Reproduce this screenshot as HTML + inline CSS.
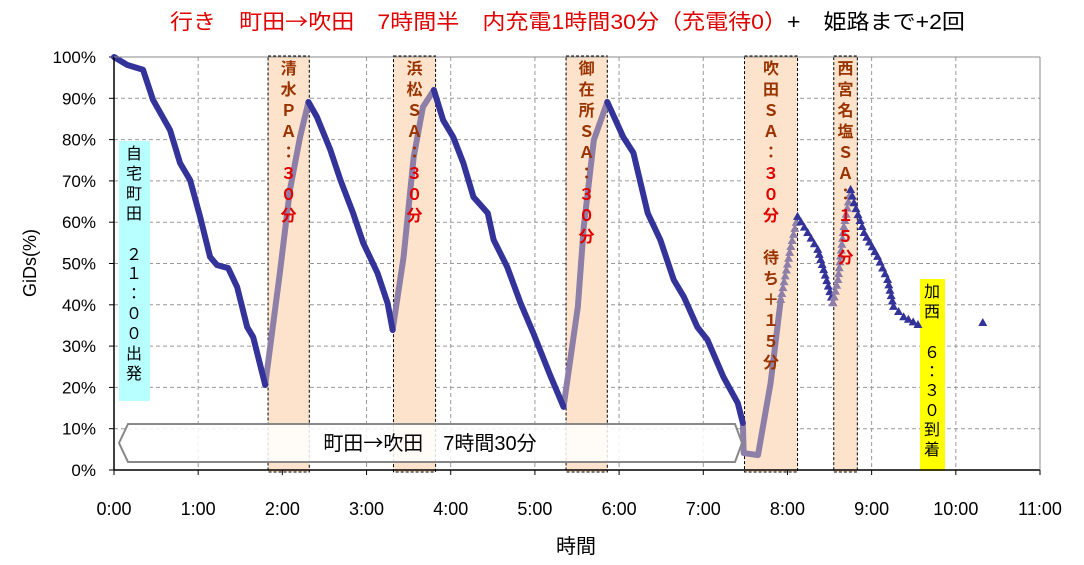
<!DOCTYPE html>
<html><head><meta charset="utf-8">
<style>
html,body{margin:0;padding:0;background:#fff;}
svg{display:block;font-family:"Liberation Sans","Noto Sans CJK JP",sans-serif;}
.cjk{font-family:"Noto Sans CJK JP",sans-serif;}
</style></head>
<body>
<svg id="chart" width="1084" height="565" viewBox="0 0 1084 565">
<text x="170" y="29" font-size="21" textLength="795" lengthAdjust="spacingAndGlyphs"><tspan fill="#e00000">行き　町田</tspan><tspan class="cjk" fill="#e00000">→</tspan><tspan fill="#e00000">吹田　7時間半　内充電1時間30分（充電待0）</tspan><tspan fill="#000">+　姫路まで+2回</tspan></text>
<g id="grid"></g>
<g id="bands"></g>
<g id="yticks"></g>
<g id="xticks"></g>
<rect x="119" y="141" width="31" height="260" fill="#b8ffff"/>
<text font-size="16" fill="#000" text-anchor="middle">
<tspan x="134" y="159">自</tspan><tspan x="134" y="179">宅</tspan><tspan x="134" y="199">町</tspan><tspan x="134" y="219">田</tspan><tspan x="134" y="260">２</tspan><tspan x="134" y="279">１</tspan><tspan x="134" y="299">：</tspan><tspan x="134" y="319">０</tspan><tspan x="134" y="339">０</tspan><tspan x="134" y="359">出</tspan><tspan x="134" y="379">発</tspan></text>
<rect x="920" y="279" width="25" height="192" fill="#ffff00"/>
<text font-size="16" fill="#000" text-anchor="middle">
<tspan x="932" y="297">加</tspan><tspan x="932" y="317">西</tspan><tspan x="932" y="358">６</tspan><tspan x="932" y="377">：</tspan><tspan x="932" y="396">３</tspan><tspan x="932" y="416">０</tspan><tspan x="932" y="435">到</tspan><tspan x="932" y="455">着</tspan></text>
<g id="series"></g>
<g id="bandtext"></g>
<polygon points="119,443 128,424 735,424 742,443 735,462 128,462" fill="rgba(255,255,255,0.85)" stroke="#888" stroke-width="2"/>
<text x="430" y="450" font-size="20" text-anchor="middle" fill="#000">町田<tspan class="cjk">→</tspan>吹田　7時間30分</text>
<line x1="114" y1="57" x2="114" y2="470" stroke="#000" stroke-width="1.5"/>
<line x1="114" y1="470" x2="1040" y2="470" stroke="#000" stroke-width="1.5"/>
<line x1="1040" y1="57" x2="1040" y2="470" stroke="#888" stroke-width="1"/>
<line x1="114" y1="57" x2="1040" y2="57" stroke="#888" stroke-width="1"/>
<text x="576" y="553" font-size="20" text-anchor="middle" fill="#000">時間</text>
<text x="0" y="0" font-size="18" text-anchor="middle" fill="#000" transform="translate(36,263) rotate(-90)">GiDs(%)</text>
</svg>
<script>
// data
const xTickLabels=["0:00","1:00","2:00","3:00","4:00","5:00","6:00","7:00","8:00","9:00","10:00","11:00"];
const yTickLabels=["0%","10%","20%","30%","40%","50%","60%","70%","80%","90%","100%"];
const bandStarts=[1.83,3.32,5.37,7.49,8.55];
const bandEnds=[2.32,3.82,5.86,8.12,8.83];
const bandTextBrown=[["清","水","Ｐ","Ａ","："],["浜","松","Ｓ","Ａ","："],["御","在","所","Ｓ","Ａ","："],["吹","田","Ｓ","Ａ","："],["西","宮","名","塩","Ｓ","Ａ","："]];
const bandTextRed=[["３","０","分"],["３","０","分"],["３","０","分"],["３","０","分"],["１","５","分"]];
const bandTextExtra=[[],[],[],["","待","ち","＋","１","５","分"],[]];
const driveT=[[0,0.155,0.345,0.464,0.666,0.785,0.904,1.023,1.141,1.225,1.356,1.463,1.582,1.653,1.796],
[2.31,2.41,2.57,2.69,2.84,2.96,3.13,3.25,3.31],
[3.80,3.91,4.03,4.15,4.27,4.44,4.51,4.67,4.83,4.98,5.18,5.34],
[5.86,6.05,6.17,6.34,6.49,6.65,6.77,6.93,7.05,7.24,7.41,7.47]];
const driveV=[[100,98.1,96.9,89.6,82.3,74.3,70.2,61.3,51.6,49.6,48.9,44.3,34.6,32.2,20.6],
[89.1,85.5,77.5,70.2,62.2,55.0,47.7,40.4,33.9],
[92.0,84.7,80.6,74.3,66.1,62.2,55.7,49.2,40.4,33.2,23.0,15.3],
[89.1,80.6,76.8,62.2,55.7,46.0,41.9,34.6,31.5,22.5,16.2,11.4]];
const chargeT=[[1.796,1.97,2.09,2.21,2.31],[3.31,3.44,3.56,3.67,3.80],[5.34,5.51,5.58,5.70,5.86],[7.47,7.48,7.65,7.80,7.92]];
const chargeV=[[20.6,47.7,67.8,80.6,89.1],[33.9,51.6,75.8,87.9,92.0],[15.3,39.5,58.8,79.9,89.1],[11.4,4.1,3.6,21.1,41.2]];
const markT=[[7.92,8.04,8.12],[8.12,8.24,8.36,8.43,8.54],[8.54,8.60,8.67,8.75],[8.75,8.79,8.91,9.07,9.19,9.26,9.38,9.55],[10.32]];
const markV=[[41.2,54.0,61.3],[61.3,57.4,53.3,48.4,40.4],[40.4,46.0,58.8,67.8],[67.8,64.6,57.4,51.6,46.0,39.5,37.0,35.1],[35.6]];
const markIsCharge=[true,false,true,false,false];

const NS="http://www.w3.org/2000/svg";
const X0=114,X1=1040,Y0=470,Y1=57;
const xs=t=>X0+(X1-X0)*t/11;
const ys=v=>Y0-(Y0-Y1)*v/100;
function mk(tag,attrs,parent){const e=document.createElementNS(NS,tag);for(const k in attrs)e.setAttribute(k,attrs[k]);parent.appendChild(e);return e;}
const grid=document.getElementById('grid'),bands=document.getElementById('bands'),bt=document.getElementById('bandtext'),yt=document.getElementById('yticks'),xt=document.getElementById('xticks'),ser=document.getElementById('series');
yTickLabels.forEach((l,i)=>{const y=ys(i*10);
 if(i>0&&i<10){const g=mk('line',{x1:X0,x2:X1,y1:y,y2:y,stroke:'#999','stroke-dasharray':'4,3','stroke-width':1},grid);
 
 }
 const tk=mk('line',{x1:X0-5,x2:X0,y1:y,y2:y,stroke:'#000'},yt);
 
 
 const t=mk('text',{x:96,y:y+6,'font-size':17,'text-anchor':'end',fill:'#000'},yt);t.textContent=l;
 
 });
xTickLabels.forEach((l,i)=>{const x=xs(i);
 if(i>0&&i<11){const g=mk('line',{x1:x,x2:x,y1:Y1,y2:Y0,stroke:'#999','stroke-dasharray':'4,3','stroke-width':1},grid);
 
 }
 const tk=mk('line',{x1:x,x2:x,y1:Y0,y2:Y0+5,stroke:'#000'},xt);
 
 
 const t=mk('text',{x:x,y:515,'font-size':18,'text-anchor':'middle',fill:'#000'},xt);t.textContent=l;
 
 });
bandStarts.forEach((s,i)=>{const x=xs(s),w=xs(bandEnds[i])-x;
 const r=mk('rect',{x:x,y:56,width:w,height:416,fill:'#fde3cb',stroke:'#000','stroke-dasharray':'3,2','stroke-width':1},bands);
 
 
 const cx=x+w/2;let y=74;
 const chars=[...bandTextBrown[i].map(c=>[c,'#993300']),...bandTextRed[i].map(c=>[c,'#e00000']),...bandTextExtra[i].map(c=>[c,'#993300'])];
 chars.forEach(([c,col])=>{if(c){const t=mk('text',{x:cx,y:y,'font-size':16,'font-weight':'600','text-anchor':'middle',fill:col},bt);t.textContent=c;
 
 }
 y+=21;});});
function line(T,V,col,w,name){const p=mk('polyline',{points:T.map((t,j)=>xs(t)+','+ys(V[j])).join(' '),fill:'none',stroke:col,'stroke-width':w,'stroke-linejoin':'round','stroke-linecap':'round'},ser);
 
 }
chargeT.forEach((T,i)=>line(T,chargeV[i],'#8e7fa8',6,'charging-line'));
driveT.forEach((T,i)=>line(T,driveV[i],'#333399',6,'driving-line'));
function tri(x,y,col){const p=mk('polygon',{points:`${x},${y-5} ${x-4.5},${y+3} ${x+4.5},${y+3}`,fill:col},ser);
 
 }
markT.forEach((T,i)=>{const V=markV[i],col=markIsCharge[i]?'#8e7fa8':'#333399';
 if(T.length===1){tri(xs(T[0]),ys(V[0]),col);return;}
 for(let j=0;j<T.length-1;j++){const x1=xs(T[j]),y1=ys(V[j]),x2=xs(T[j+1]),y2=ys(V[j+1]);
  const n=Math.max(1,Math.round(Math.hypot(x2-x1,y2-y1)/6));
  for(let k=0;k<n;k++){tri(x1+(x2-x1)*k/n,y1+(y2-y1)*k/n,col);}}
 tri(xs(T[T.length-1]),ys(V[V.length-1]),col);});
</script>
</body></html>
